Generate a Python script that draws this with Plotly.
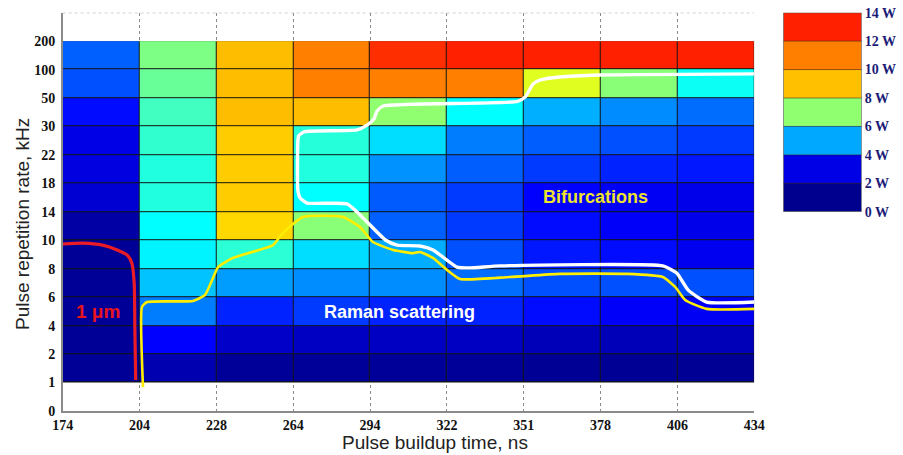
import plotly.graph_objects as go

# Axis categories (equally spaced on both axes)
buildup_ticks = ["174", "204", "228", "264", "294", "322", "351", "378", "406", "434"]
rate_ticks = ["0", "1", "2", "4", "6", "8", "10", "14", "18", "22", "30", "50", "100", "200"]

# Output power (W) per cell; one list per repetition-rate band (1-2 kHz first),
# nine buildup-time bins per list (174-204 ns ... 406-434 ns)
power_w = [
    [1.20, 1.9, 1.3, 1.30, 1.30, 1.30, 1.15, 1.15, 1.15],   # 1-2 kHz
    [1.20, 3.5, 2.4, 2.30, 2.30, 2.30, 2.10, 2.10, 2.10],   # 2-4
    [1.20, 4.6, 3.8, 4.00, 3.80, 3.80, 3.60, 3.40, 3.30],   # 4-6
    [1.20, 5.25, 4.9, 4.75, 4.75, 4.46, 4.20, 4.20, 4.20],  # 6-8
    [1.20, 5.7, 6.2, 5.50, 5.05, 4.20, 3.70, 3.60, 3.20],   # 8-10
    [1.60, 5.8, 8.4, 6.95, 4.35, 4.00, 3.60, 3.40, 3.10],   # 10-14
    [2.60, 6.1, 8.7, 5.80, 4.30, 4.00, 3.50, 3.30, 3.10],   # 14-18
    [2.90, 6.1, 8.7, 6.10, 4.80, 4.33, 4.00, 3.80, 3.70],   # 18-22
    [3.00, 6.25, 8.7, 6.15, 5.50, 4.60, 4.33, 4.20, 4.00],  # 22-30
    [3.60, 6.4, 9.1, 9.10, 7.00, 5.80, 5.06, 4.74, 4.46],   # 30-50
    [4.20, 6.7, 9.1, 11.0, 11.0, 11.0, 7.70, 6.95, 5.90],   # 50-100
    [4.35, 6.85, 9.1, 11.0, 12.7, 13.0, 13.0, 13.0, 13.0],  # 100-200
]

# Legend band edges (W)
legend_edges = [0, 2, 4, 6, 8, 10, 12, 14]

# Boundary curves, in grid units (x: buildup-time bins, y: rate bands)
white_x = [9.0, 6.99, 6.47, 6.21, 6.12, 6.02, 5.92, 4.17, 4.09, 4.05, 3.96, 3.83, 3.15, 3.07,
           3.06, 3.06, 3.09, 3.18, 3.70, 3.87, 4.20, 4.35, 4.65, 4.82, 5.13, 5.30, 5.69, 7.81,
           7.99, 8.14, 8.38, 9.0]
white_y = [11.85, 11.81, 11.74, 11.63, 11.49, 11.04, 10.88, 10.72, 10.54, 10.26, 10.05, 9.88, 9.82, 9.67,
           9.46, 7.77, 7.49, 7.31, 7.28, 6.89, 6.01, 5.83, 5.80, 5.66, 5.06, 5.03, 5.10, 5.10,
           4.85, 4.25, 3.83, 3.83]

yellow_x = [1.045, 1.032, 1.097, 1.696, 1.853, 1.944, 2.022, 2.216, 2.736, 2.866, 3.127, 3.647,
            3.868, 4.037, 4.30, 4.558, 4.649, 4.818, 5.00, 5.17, 5.82, 6.47, 7.34, 7.81, 7.97,
            8.10, 8.38, 9.0]
yellow_y = [0.84, 3.66, 3.83, 3.87, 4.08, 4.60, 5.06, 5.38, 5.83, 6.26, 6.82, 6.82,
            6.47, 5.94, 5.66, 5.55, 5.59, 5.38, 4.96, 4.64, 4.71, 4.82, 4.82, 4.71, 4.36,
            3.90, 3.59, 3.59]

red_x = [0.0, 0.26, 0.52, 0.71, 0.84, 0.90, 0.93, 0.94, 0.95]
red_y = [5.87, 5.90, 5.83, 5.66, 5.48, 5.20, 4.50, 2.74, 1.09]

# Jet-like palette over 0..14 W
ZMAX = 14.0
palette = [
    (0, "#000080"), (1, "#00008e"), (2, "#0000b4"), (3, "#0000e6"), (3.5, "#0000ff"),
    (4.2, "#0050ff"), (5, "#00a8ff"), (5.8, "#00ffff"), (6.4, "#40ffc0"), (7, "#90ff70"),
    (7.7, "#e0ff20"), (8.2, "#ffe000"), (9, "#ffc000"), (10, "#ffa000"), (11, "#ff8000"),
    (12, "#ff5000"), (13, "#ff2000"), (14, "#ff0000"),
]
colorscale = [[w / ZMAX, c] for w, c in palette]

n_cols = len(buildup_ticks) - 1
n_rows = len(power_w)
serif_bold = dict(family="Liberation Serif, Times New Roman, serif", size=14, color="#111", weight="bold")
sans = "Liberation Sans, Arial, sans-serif"

fig = go.Figure()

fig.add_trace(go.Heatmap(
    z=power_w,
    x=[i + 0.5 for i in range(n_cols)],
    y=[j + 1.5 for j in range(n_rows)],
    colorscale=colorscale, zmin=0, zmax=ZMAX,
    xgap=1, ygap=1, showscale=False, hoverinfo="skip",
))

# Discrete legend bar
mids = [(a + b) / 2 for a, b in zip(legend_edges[:-1], legend_edges[1:])]
fig.add_trace(go.Heatmap(
    z=[[m] for m in mids], x=[0.5], y=mids,
    colorscale=colorscale, zmin=0, zmax=ZMAX,
    showscale=False, hoverinfo="skip",
    xaxis="x2", yaxis="y2",
))

fig.add_trace(go.Scatter(x=red_x, y=red_y, mode="lines",
                         line=dict(color="#ec1c24", width=3.2, shape="spline", smoothing=0.6),
                         hoverinfo="skip"))
fig.add_trace(go.Scatter(x=white_x, y=white_y, mode="lines",
                         line=dict(color="#ffffff", width=3.4, shape="spline", smoothing=0.5),
                         hoverinfo="skip"))
fig.add_trace(go.Scatter(x=yellow_x, y=yellow_y, mode="lines",
                         line=dict(color="#ffee00", width=2.6, shape="spline", smoothing=0.5),
                         hoverinfo="skip"))

shapes = [
    # dark backing that shows through the cell gaps as grid lines
    dict(type="rect", xref="x", yref="y", x0=0, x1=n_cols, y0=1, y1=1 + n_rows,
         fillcolor="#141414", line=dict(width=0), layer="between"),
    # dotted top edge
    dict(type="line", xref="x", yref="y", x0=0, x1=n_cols, y0=14, y1=14,
         line=dict(color="#8a8a8a", width=1, dash="dot")),
    # legend frame
    dict(type="rect", xref="x2", yref="y2", x0=0, x1=1, y0=0, y1=14,
         line=dict(color="#505050", width=1), fillcolor="rgba(0,0,0,0)"),
]
# legend band separators
for e in legend_edges[1:-1]:
    shapes.append(dict(type="line", xref="x2", yref="y2", x0=0, x1=1, y0=e, y1=e,
                       line=dict(color="rgba(60,40,30,0.55)", width=1)))

W, H = 903, 455
annotations = [
    dict(text="1 μm", x=0.46, y=3.48, xref="x", yref="y", showarrow=False,
         font=dict(family=sans, size=19, color="#e8141e", weight="bold")),
    dict(text="Raman scattering", x=4.38, y=3.48, xref="x", yref="y", showarrow=False,
         font=dict(family=sans, size=18, color="#ffffff", weight="bold")),
    dict(text="Bifurcations", x=6.93, y=7.52, xref="x", yref="y", showarrow=False,
         font=dict(family=sans, size=18, color="#ede22c", weight="bold")),
    dict(text="Pulse buildup time, ns", x=435 / W, y=1 - 442 / H, xref="paper", yref="paper",
         xanchor="center", yanchor="middle", showarrow=False,
         font=dict(family=sans, size=19, color="#222")),
    dict(text="Pulse repetition rate, kHz", x=22 / W, y=1 - 224 / H, xref="paper", yref="paper",
         xanchor="center", yanchor="middle", textangle=-90, showarrow=False,
         font=dict(family=sans, size=19, color="#222")),
]

fig.update_layout(
    template="none",
    width=W, height=H,
    margin=dict(l=0, r=0, t=0, b=0),
    paper_bgcolor="white", plot_bgcolor="white",
    showlegend=False,
    shapes=shapes,
    annotations=annotations,
    xaxis=dict(domain=[62.7 / W, 754.3 / W], range=[0, n_cols],
               tickvals=list(range(len(buildup_ticks))), ticktext=buildup_ticks,
               showgrid=True, gridcolor="#8a8a8a", gridwidth=1, griddash="dot",
               showline=True, linecolor="#8a8a8a", linewidth=1.5, zeroline=False,
               ticks="", tickfont=serif_bold, automargin=False, fixedrange=True),
    yaxis=dict(domain=[1 - 411 / H, 1 - 12.7 / H], range=[0, 14],
               tickvals=list(range(len(rate_ticks))), ticktext=rate_ticks,
               showgrid=False, showline=True, linecolor="#8a8a8a", linewidth=1.5,
               zeroline=False, ticks="", ticklabelstandoff=3, tickfont=serif_bold,
               automargin=False, fixedrange=True),
    xaxis2=dict(domain=[783.3 / W, 861.7 / W], range=[0, 1], visible=False, anchor="y2"),
    yaxis2=dict(domain=[1 - 211.7 / H, 1 - 12.7 / H], range=[0, 14], anchor="x2", side="right",
                tickvals=legend_edges, ticktext=[f"{e} W" for e in legend_edges],
                showgrid=False, showline=False, zeroline=False, ticks="", ticklabelstandoff=2,
                tickfont=dict(family="Liberation Serif, Times New Roman, serif", size=14,
                              color="#1c1c78", weight="bold"),
                automargin=False),
)

fig.write_html("out.html")
